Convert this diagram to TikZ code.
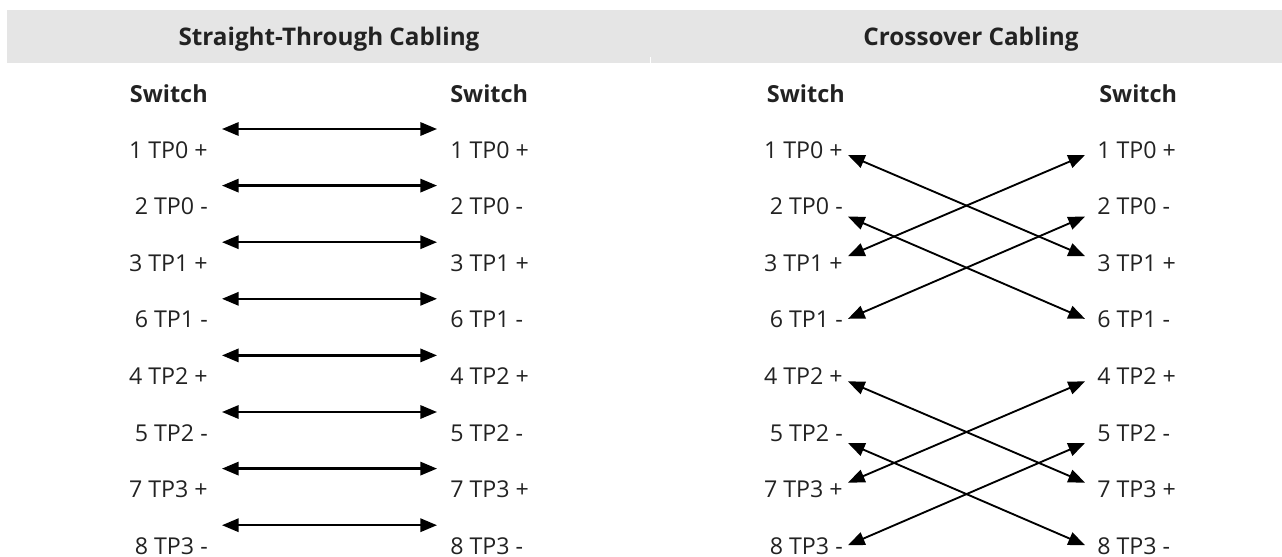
\documentclass[tikz,border=0pt]{standalone}
\usepackage{fontspec}
\setmainfont{Open Sans}
\usetikzlibrary{arrows.meta}
\definecolor{hdr}{HTML}{E5E5E5}
\definecolor{txt}{HTML}{222222}
\begin{document}
\begin{tikzpicture}[x=0.75pt,y=-0.75pt,
  lab/.style={font=\fontsize{17.4}{19}\selectfont, text=txt, inner sep=0pt},
  labl/.style={lab, anchor=base east},
  labr/.style={lab, anchor=base west},
  sw/.style={font=\fontsize{17.6}{19}\selectfont\bfseries, text=txt, inner sep=0pt},
  ttl/.style={font=\fontsize{18.2}{20}\selectfont\bfseries, text=txt, inner sep=0pt, anchor=base},
  straightarr/.style={line width=1.7pt, {Triangle[length=12.5pt,width=10pt]}-{Triangle[length=12.5pt,width=10pt]}},
  crossarr/.style={line width=1.4pt, {Triangle[length=12.5pt,width=10pt]}-{Triangle[length=12.5pt,width=10pt]}}]
\useasboundingbox (0,0) rectangle (1282,557);
% header band
\fill[hdr] (7,10) rectangle (1282,63);
\draw[white, line width=0.75pt] (650,57) -- (650,63);
\node[ttl] (t1) at (329,45) {Straight-Through Cabling};
\node[ttl] (t2) at (971,45) {Crossover Cabling};
% switch headers
\node[sw, anchor=base east] (sw1) at (208,102) {Switch};
\node[sw, anchor=base west] (sw2) at (450,102) {Switch};
\node[sw, anchor=base east] (sw3) at (845,102) {Switch};
\node[sw, anchor=base west] (sw4) at (1099,102) {Switch};
% labels
\foreach \t [count=\i from 0] in {1 TP0 +, 2 TP0 -, 3 TP1 +, 6 TP1 -, 4 TP2 +, 5 TP2 -, 7 TP3 +, 8 TP3 -}{
  \pgfmathsetmacro\b{158+56.6*\i}
  \node[labl] (sl\i) at (208,\b) {\t};
  \node[labr] (sr\i) at (450,\b) {\t};
  \node[labl] (cl\i) at (843,\b) {\t};
  \node[labr] (cr\i) at (1097,\b) {\t};
  \pgfmathsetmacro\ya{\b-29}
  \coordinate (sa\i) at (222,\ya);
  \coordinate (sb\i) at (437,\ya);
}
% straight arrows
\foreach \i in {0,...,7}{ \draw[straightarr] (sa\i) -- (sb\i); }
% crossover end points
\foreach \i/\o in {0/-3,1/2,2/-15,3/-9,4/-3,5/2,6/-15,7/-9}{
  \pgfmathsetmacro\yc{158+56.6*\i+\o}
  \coordinate (ca\i) at (848,\yc);
  \coordinate (cb\i) at (1085,\yc);
}
\foreach \p/\q in {0/2,1/3,4/6,5/7}{
  \draw[crossarr] (ca\p) -- (cb\q);
  \draw[crossarr] (cb\p) -- (ca\q);
}
\end{tikzpicture}
\end{document}
